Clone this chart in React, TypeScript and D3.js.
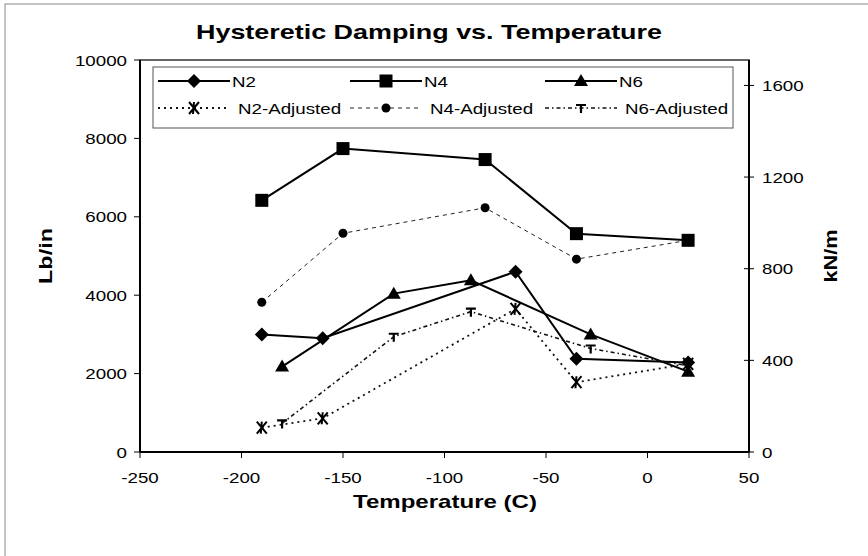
import * as d3 from 'd3';

const n2Temps = [-190, -160, -65, -35, 20];
const n4Temps = [-190, -150, -80, -35, 20];
const n6Temps = [-180, -125, -87, -28, 20];

const n2Values = [3000, 2900, 4600, 2380, 2280];
const n4Values = [6420, 7740, 7460, 5570, 5400];
const n6Values = [2180, 4040, 4380, 3000, 2050];
const n2AdjValues = [620, 860, 3650, 1780, 2250];
const n4AdjValues = [3820, 5580, 6230, 4920, 5400];
const n6AdjValues = [730, 2940, 3580, 2640, 2200];

const xTicks = [-250, -200, -150, -100, -50, 0, 50];
const yTicks = [0, 2000, 4000, 6000, 8000, 10000];
const y2Ticks = [0, 400, 800, 1200, 1600];

const FONT = 'Liberation Sans, Arial, sans-serif';
const SX = 1.25; // the scan is stretched sideways

type Series = {
  name: string;
  temps: number[];
  values: number[];
  marker: string;
  dash: string | null;
  width: number;
  color: string;
};

const series: Series[] = [
  { name: 'N2', temps: n2Temps, values: n2Values, marker: 'diamond', dash: null, width: 2, color: '#000' },
  { name: 'N4', temps: n4Temps, values: n4Values, marker: 'square', dash: null, width: 2, color: '#000' },
  { name: 'N6', temps: n6Temps, values: n6Values, marker: 'triangle', dash: null, width: 2, color: '#000' },
  { name: 'N2-Adjusted', temps: n2Temps, values: n2AdjValues, marker: 'star', dash: '2,4', width: 1.8, color: '#111' },
  { name: 'N4-Adjusted', temps: n4Temps, values: n4AdjValues, marker: 'circle', dash: '4,4', width: 1, color: '#222' },
  { name: 'N6-Adjusted', temps: n6Temps, values: n6AdjValues, marker: 'tee', dash: '4,3,1.5,3', width: 1.6, color: '#111' },
];

function SText({
  x,
  y,
  size,
  anchor = 'start',
  children,
}: {
  x: number;
  y: number;
  size: number;
  anchor?: string;
  children: any;
}) {
  return (
    <text transform={`translate(${x},${y}) scale(${SX},1)`} textAnchor={anchor} fontSize={size}>
      {children}
    </text>
  );
}

function Marker({ kind, x, y }: { kind: string; x: number; y: number }) {
  if (kind === 'diamond') {
    return <path d={`M${x},${y - 7}L${x + 7},${y}L${x},${y + 7}L${x - 7},${y}Z`} fill="#000" />;
  }
  if (kind === 'square') {
    return <rect x={x - 6.5} y={y - 6.5} width={13} height={13} fill="#000" />;
  }
  if (kind === 'triangle') {
    return <path d={`M${x},${y - 7}L${x + 7},${y + 5}L${x - 7},${y + 5}Z`} fill="#000" />;
  }
  if (kind === 'circle') {
    return <circle cx={x} cy={y} r={4.5} fill="#000" />;
  }
  if (kind === 'star') {
    return (
      <path
        d={`M${x - 5},${y - 6}L${x + 5},${y + 6}M${x + 5},${y - 6}L${x - 5},${y + 6}M${x},${y - 6}L${x - 1},${y + 6}`}
        stroke="#000"
        strokeWidth={2}
        fill="none"
      />
    );
  }
  // tee
  return (
    <path
      d={`M${x - 5},${y - 3}L${x + 5},${y - 3}M${x},${y - 3}L${x},${y + 5}`}
      stroke="#000"
      strokeWidth={2.2}
      fill="none"
    />
  );
}

export default function App() {
  const width = 868;
  const height = 556;
  const left = 140;
  const right = 749;
  const top = 60;
  const bottom = 452;

  const x = d3.scaleLinear().domain([-250, 50]).range([left, right]);
  const y = d3.scaleLinear().domain([0, 10000]).range([bottom, top]);
  const y2 = d3.scaleLinear().domain([0, 1711]).range([bottom, top]);

  const line = d3
    .line<[number, number]>()
    .x((d) => x(d[0]))
    .y((d) => y(d[1]));

  const legendCols = [158, 350, 545];
  const legendRows = [81, 108];

  return (
    <svg
      width={width}
      height={height}
      style={{ position: 'absolute', left: 0, top: 0, background: '#fff' }}
      fontFamily={FONT}
    >
      <rect x={5} y={4} width={900} height={600} fill="#fff" stroke="#888" strokeWidth={1} />

      <text
        x={429}
        y={39}
        textAnchor="middle"
        fontSize={21}
        fontWeight="bold"
        textLength={466}
        lengthAdjust="spacingAndGlyphs"
      >
        Hysteretic Damping vs. Temperature
      </text>

      {/* plot area border */}
      <rect x={left} y={top} width={right - left} height={bottom - top} fill="none" stroke="#333" strokeWidth={1.5} />

      {/* series */}
      {series.map((s) => {
        const pts = s.temps.map((t, i) => [t, s.values[i]] as [number, number]);
        return (
          <g key={s.name}>
            <path
              d={line(pts) || ''}
              fill="none"
              stroke={s.color}
              strokeWidth={s.width}
              strokeDasharray={s.dash || undefined}
            />
            {pts.map((p, i) => (
              <Marker key={i} kind={s.marker} x={x(p[0])} y={y(p[1])} />
            ))}
          </g>
        );
      })}

      {/* axes */}
      <line x1={left} y1={top} x2={left} y2={bottom} stroke="#000" strokeWidth={2} />
      <line x1={left} y1={bottom} x2={right} y2={bottom} stroke="#000" strokeWidth={2} />
      <line x1={right} y1={top} x2={right} y2={bottom} stroke="#000" strokeWidth={2} />

      {yTicks.map((t) => (
        <g key={'y' + t}>
          <line x1={left - 6} y1={y(t)} x2={left} y2={y(t)} stroke="#000" strokeWidth={1} />
          <SText x={left - 13} y={y(t) + 5.5} size={15}>
            <tspan textAnchor="end">{t}</tspan>
          </SText>
        </g>
      ))}
      {y2Ticks.map((t) => (
        <g key={'y2' + t}>
          <line x1={right - 5} y1={y2(t)} x2={right + 5} y2={y2(t)} stroke="#000" strokeWidth={1} />
          <SText x={right + 13} y={y2(t) + 5.5} size={15}>
            {t}
          </SText>
        </g>
      ))}
      {xTicks.map((t) => (
        <g key={'x' + t}>
          <line x1={x(t)} y1={bottom} x2={x(t)} y2={bottom + 6} stroke="#000" strokeWidth={1} />
          <SText x={x(t)} y={bottom + 31} size={15} anchor="middle">
            {t}
          </SText>
        </g>
      ))}

      <text
        x={445}
        y={508}
        textAnchor="middle"
        fontSize={19}
        fontWeight="bold"
        textLength={184}
        lengthAdjust="spacingAndGlyphs"
      >
        Temperature (C)
      </text>
      <text
        transform="translate(52,256) rotate(-90)"
        textAnchor="middle"
        fontSize={19}
        fontWeight="bold"
        textLength={56}
        lengthAdjust="spacingAndGlyphs"
      >
        Lb/in
      </text>
      <text
        transform="translate(837,256) rotate(-90)"
        textAnchor="middle"
        fontSize={19}
        fontWeight="bold"
        textLength={53}
        lengthAdjust="spacingAndGlyphs"
      >
        kN/m
      </text>

      {/* legend */}
      <rect x={153} y={67} width={580} height={61} fill="#fff" stroke="#555" strokeWidth={1} />
      {series.map((s, i) => {
        const col = legendCols[i % 3];
        const row = legendRows[Math.floor(i / 3)];
        return (
          <g key={'lg' + s.name}>
            <line
              x1={col}
              y1={row}
              x2={col + 72}
              y2={row}
              stroke={s.color}
              strokeWidth={s.width}
              strokeDasharray={s.dash || undefined}
            />
            <Marker kind={s.marker} x={col + 36} y={row} />
            <SText x={col + (i < 3 ? 74 : 80)} y={row + 5.5} size={15}>
              {s.name}
            </SText>
          </g>
        );
      })}
    </svg>
  );
}
